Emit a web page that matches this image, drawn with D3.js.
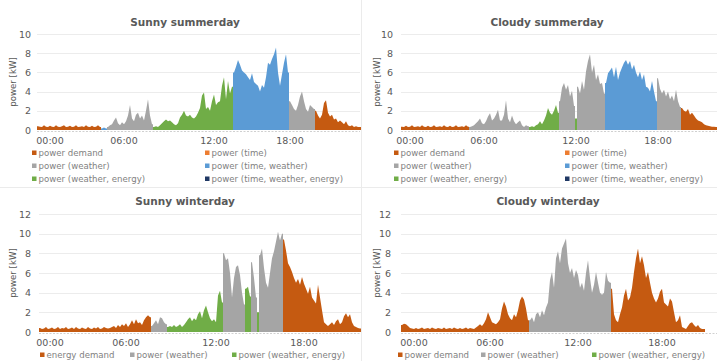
<!DOCTYPE html>
<html>
<head>
<meta charset="utf-8">
<script src="https://d3js.org/d3.v7.min.js"></script>
<style>
  body { margin: 0; background: #fff; }
  svg { display: block; font-family: "DejaVu Sans", Verdana, sans-serif; }
  .title { font-weight: bold; fill: #595959; font-size: 10.5px; }
  .ylabel { fill: #595959; font-size: 8.6px; }
  .legend text { fill: #7f7f7f; font-size: 8.6px; }
</style>
</head>
<body>
<svg id="chart" width="717" height="361"></svg>
<script>
// series (Excel default palette)
const seriesKeys   = ["demand", "time", "weather", "timeWeather", "weatherEnergy", "timeWeatherEnergy"];
const seriesNames  = ["power demand", "power (time)", "power (weather)", "power (time, weather)", "power (weather, energy)", "power (time, weather, energy)"];
const seriesColors = ["#C55A11", "#ED7D31", "#A5A5A5", "#5B9BD5", "#70AD47", "#203864"];
const tickLabels = ["00:00", "06:00", "12:00", "18:00"];

// Sunny summerday - one value per sample [kW]
const sunnySummerValues = [
  0.4,0.35,0.3,0.5,0.35,0.3,0.45,0.35,0.3,0.5,0.35,0.3,0.4,0.5,0.3,0.35,0.45,0.3,0.35,0.5,0.3,0.35,0.4,0.3,0.5,0.35,0.3,0.45,0.3,0.35,0.5,0.3,
  0.15,0.25,0.15,
  0.3,0.5,0.6,1.0,1.3,0.7,0.5,0.8,0.6,0.9,1.5,2.6,1.2,0.9,1.6,1.8,1.2,1.5,1.0,2.0,3.2,1.5,0.6,
  0.3,0.4,0.3,0.5,0.7,0.9,1.1,0.9,1.0,0.8,0.6,0.5,0.7,1.3,1.6,2.0,1.5,1.4,1.6,1.3,
  1.2,1.4,1.8,2.3,3.6,3.9,2.2,2.4,2.0,3.0,3.7,2.6,2.9,3.0,4.6,5.5,3.2,5.1,3.8,4.5,
  6.0,6.6,7.3,6.8,6.2,6.0,5.8,5.5,5.2,5.9,5.0,4.8,4.6,4.0,4.7,4.4,5.5,7.0,6.8,7.4,7.9,8.6,6.0,4.6,5.8,7.0,7.9,6.0,
  3.0,2.6,2.2,2.0,2.6,3.5,4.0,3.0,2.2,1.9,2.6,2.4,2.2,
  2.0,1.5,1.2,1.6,2.8,3.1,1.8,1.4,1.6,1.1,1.2,0.8,1.0,0.8,0.6,0.9,0.5,0.4,0.5,0.3,0.4,0.3,0.3
];
const sunnySummerSegments = [["demand",32],["timeWeather",3],["weather",23],["weatherEnergy",40],["timeWeather",28],["weather",13],["demand",23]];
const sunnySummerTicks = [6, 43, 88, 126];

// Cloudy summerday
const cloudySummerValues = [
  0.35,0.3,0.45,0.3,0.35,0.5,0.3,0.35,0.4,0.3,0.5,0.35,0.3,0.45,0.3,0.35,0.5,0.3,0.35,0.4,0.3,0.5,0.35,0.3,0.45,0.3,0.35,0.5,0.3,0.35,0.4,0.3,0.5,0.35,
  0.3,0.4,0.5,0.7,0.9,1.2,0.7,0.6,0.9,1.4,1.75,1.0,1.2,1.6,2.1,1.0,1.0,1.6,3.1,1.2,0.8,1.5,0.9,0.6,0.8,1.0,0.5,0.3,0.5,0.4,
  0.3,0.4,0.3,0.5,0.6,0.9,0.6,1.0,1.5,2.3,1.8,1.6,2.0,2.6,1.8,
  3.0,4.4,4.9,4.2,4.7,3.5,4.1,2.5,
  1.2,
  4.5,3.8,5.1,4.2,6.1,7.2,7.9,6.0,6.8,5.2,5.8,4.8,4.9,3.8,
  4.9,5.9,6.2,6.5,5.5,6.6,5.2,6.0,6.5,7.0,7.3,6.8,7.2,6.3,6.8,6.0,5.5,6.1,5.2,5.8,4.5,4.4,4.0,5.1,4.0,3.0,
  5.4,4.3,3.8,4.2,3.5,4.0,3.2,3.6,3.0,4.2,3.0,2.4,
  2.3,2.0,1.9,2.2,1.6,1.8,1.5,1.2,1.0,0.9,0.8,0.6,0.5,0.45,0.4,0.35,0.35,0.3
];
const cloudySummerSegments = [["demand",34],["weather",30],["weatherEnergy",15],["weather",8],["weatherEnergy",1],["weather",14],["timeWeather",26],["weather",12],["demand",18]];
const cloudySummerTicks = [4, 41, 87, 128];

// Sunny winterday
const sunnyWinterValues = [
  0.4,0.3,0.35,0.5,0.3,0.35,0.45,0.3,0.35,0.5,0.3,0.4,0.35,0.5,0.3,0.35,0.45,0.3,0.5,0.35,0.3,0.45,0.35,0.3,0.5,0.35,0.3,0.45,0.35,0.5,0.3,0.35,0.5,0.4,0.35,
  0.4,0.5,0.6,0.4,0.7,0.5,0.8,0.6,0.9,0.5,0.8,1.2,0.8,1.3,0.9,1.0,0.7,1.2,1.5,1.7,1.5,
  0.6,0.9,1.2,0.8,1.5,1.4,1.0,0.8,
  0.5,0.6,0.5,0.7,0.5,0.6,0.8,0.5,0.7,1.0,1.3,1.5,1.1,1.4,1.2,1.8,2.1,1.4,2.2,2.7,2.0,1.4,1.1,1.3,1.0,3.7,4.2,3.0,
  8.0,7.3,7.5,6.0,3.5,5.5,6.6,6.8,5.8,4.0,2.8,
  4.4,4.6,3.6,
  7.1,5.5,3.5,
  2.0,
  7.8,8.5,6.5,5.0,4.5,6.0,7.5,8.2,9.2,10.2,9.3,10.0,
  9.4,8.3,7.0,6.6,6.1,5.5,5.0,5.4,4.8,5.6,4.9,4.4,3.9,4.6,3.5,3.2,2.9,4.8,3.5,2.2,
  1.0,0.8,0.6,0.8,1.0,0.7,1.1,1.3,0.8,1.0,1.6,1.9,1.5,1.8,1.0,0.6,0.5,0.4,0.35
];
const sunnyWinterSegments = [["demand",56],["weather",8],["weatherEnergy",28],["weather",11],["weatherEnergy",3],["weather",3],["weatherEnergy",1],["weather",12],["demand",39]];
const sunnyWinterTicks = [5, 43, 88, 132];

// Cloudy winterday
const cloudyWinterValues = [
  0.7,0.85,0.8,0.6,0.4,
  0.35,0.3,0.4,0.3,0.35,0.45,0.3,0.35,0.4,0.3,0.45,0.35,0.3,0.4,0.35,0.3,0.45,0.3,0.35,0.4,0.3,0.45,0.35,0.3,0.4,0.3,0.35,0.45,0.3,0.4,0.35,0.3,0.45,
  0.6,0.8,0.6,0.9,1.3,2.0,1.5,1.0,0.9,0.8,1.0,1.3,2.4,3.1,2.6,1.8,1.4,1.2,1.8,1.5,2.2,3.2,3.6,3.3,2.4,1.2,
  1.2,1.5,1.0,1.8,2.0,1.5,2.2,1.7,2.5,3.0,5.3,6.1,4.5,7.5,8.2,7.0,8.5,9.0,9.5,7.0,
  6.0,6.5,5.5,6.3,5.8,4.5,5.0,4.2,6.0,7.3,5.5,4.0,4.8,6.1,5.0,4.0,3.8,4.0,6.1,5.2,5.0,
  4.4,1.8,1.2,1.0,1.8,2.5,3.7,4.4,3.2,3.5,4.5,6.1,7.5,8.5,7.0,7.7,6.8,5.5,6.1,5.0,
  4.0,3.4,3.0,3.4,4.1,4.4,3.0,2.8,2.6,3.4,3.1,2.0,1.0,1.2,1.7,0.5,0.4,0.3,0.6,0.9,
  1.0,0.7,0.5,0.7,0.4,0.3,0.3
];
const cloudyWinterSegments = [["demand",64],["weather",41],["demand",47]];
const cloudyWinterTicks = [6, 44, 88, 130];

// panel layouts
const summerLegend = [
  { key: "demand", col: 0, row: 0 }, { key: "time", col: 1, row: 0 },
  { key: "weather", col: 0, row: 1 }, { key: "timeWeather", col: 1, row: 1 },
  { key: "weatherEnergy", col: 0, row: 2 }, { key: "timeWeatherEnergy", col: 1, row: 2 }
];
const winterLegend = [
  { key: "demand", col: 0, row: 0 }, { key: "weather", col: 1, row: 0 }, { key: "weatherEnergy", col: 2, row: 0 }
];

const panels = [
  { title: "Sunny summerday", values: sunnySummerValues, segments: sunnySummerSegments, ticks: sunnySummerTicks,
    yMax: 10, left: 37, right: 361, top: 34, bottom: 130, gridRight: 360, titleX: 185, titleY: 26,
    yLabelX: 16, tickRight: 31, legend: summerLegend, legendX: [32, 205], legendY: [153, 166, 179] },
  { title: "Cloudy summerday", values: cloudySummerValues, segments: cloudySummerSegments, ticks: cloudySummerTicks,
    yMax: 10, left: 401, right: 717, top: 34, bottom: 130, gridRight: 717, titleX: 547, titleY: 26,
    yLabelX: 380, tickRight: 393, legend: summerLegend, legendX: [394, 565], legendY: [153, 166, 179] },
  { title: "Sunny winterday", values: sunnyWinterValues, segments: sunnyWinterSegments, ticks: sunnyWinterTicks,
    yMax: 12, left: 39, right: 361, top: 214, bottom: 332, gridRight: 361, titleX: 185, titleY: 205,
    yLabelX: 16, tickRight: 31, legend: winterLegend, legendX: [40, 130, 232], legendY: [355],
    names: { demand: "energy demand" } },
  { title: "Cloudy winterday", values: cloudyWinterValues, segments: cloudyWinterSegments, ticks: cloudyWinterTicks,
    yMax: 12, left: 401, right: 705, top: 214, bottom: 332, gridRight: 717, titleX: 548, titleY: 205,
    yLabelX: 380, tickRight: 391, legend: winterLegend, legendX: [398, 481, 592], legendY: [355] }
];

const svg = d3.select("#chart");
const color = d3.scaleOrdinal().domain(seriesKeys).range(seriesColors);
const label = d3.scaleOrdinal().domain(seriesKeys).range(seriesNames);

// faint chart borders
svg.append("line").attr("x1", 0).attr("x2", 717).attr("y1", 187.5).attr("y2", 187.5).attr("stroke", "#ebebeb");
svg.append("line").attr("x1", 361.5).attr("x2", 361.5).attr("y1", 0).attr("y2", 361).attr("stroke", "#ebebeb");

panels.forEach(p => {
  const g = svg.append("g");
  const n = p.values.length;
  const x = d3.scaleBand().domain(d3.range(n)).range([p.left, p.right]).padding(0);
  // sample index -> centre of its column
  const xc = d3.scaleLinear().domain([-0.5, n - 0.5]).range([p.left, p.right]);
  const y = d3.scaleLinear().domain([0, p.yMax]).range([p.bottom, p.top]);
  const yTicks = d3.range(0, p.yMax + 1, 2);

  // gridlines
  g.selectAll("line.grid").data(yTicks.slice(1)).join("line")
    .attr("class", "grid")
    .attr("x1", p.left).attr("x2", p.gridRight)
    .attr("y1", d => Math.round(y(d)) + 0.5).attr("y2", d => Math.round(y(d)) + 0.5)
    .attr("stroke", "#ececec");

  // one filled area per coloured run of samples
  let start = 0;
  const runs = p.segments.map(([key, len]) => {
    const pts = d3.range(start, start + len).map(i => [i, p.values[i]]);
    pts.unshift([start - 0.5, p.values[start]]);
    pts.push([start + len - 0.5, p.values[start + len - 1]]);
    start += len;
    return { key, pts };
  });
  const area = d3.area().x(d => xc(d[0])).y0(y(0)).y1(d => y(d[1]));
  g.selectAll("path.run").data(runs).join("path")
    .attr("class", "run")
    .attr("d", d => area(d.pts))
    .attr("fill", d => color(d.key));

  // dotted category axis
  g.append("line")
    .attr("x1", p.left).attr("x2", p.gridRight)
    .attr("y1", y(0) + 1.5).attr("y2", y(0) + 1.5)
    .attr("stroke", "#d0d0d0").attr("stroke-dasharray", "2,1.5");

  // axes
  g.append("g").attr("transform", `translate(${p.tickRight},0)`)
    .call(d3.axisLeft(y).tickValues(yTicks).tickSize(0).tickPadding(0))
    .call(a => a.select(".domain").remove())
    .call(a => a.selectAll("text").attr("fill", "#595959").attr("font-size", "9.5px").attr("font-family", "DejaVu Sans, Verdana, sans-serif"));

  g.append("g").attr("transform", `translate(0,${p.bottom})`)
    .call(d3.axisBottom(x).tickValues(p.ticks).tickFormat((d, i) => tickLabels[i]).tickSize(0).tickPadding(7))
    .call(a => a.select(".domain").remove())
    .call(a => a.selectAll("text").attr("fill", "#595959").attr("font-size", "9.5px").attr("font-family", "DejaVu Sans, Verdana, sans-serif"));

  // titles
  g.append("text").attr("class", "title")
    .attr("x", p.titleX).attr("y", p.titleY).attr("text-anchor", "middle").text(p.title);
  g.append("text").attr("class", "ylabel")
    .attr("transform", `translate(${p.yLabelX},${(p.top + p.bottom) / 2}) rotate(-90)`)
    .attr("text-anchor", "middle").text("power [kW]");

  // legend
  const lg = g.append("g").attr("class", "legend");
  const items = lg.selectAll("g").data(p.legend).join("g")
    .attr("transform", d => `translate(${p.legendX[d.col]},${p.legendY[d.row]})`);
  items.append("rect").attr("x", 0).attr("y", -2.5).attr("width", 4.5).attr("height", 4.5)
    .attr("fill", d => color(d.key));
  items.append("text").attr("x", 6.5).attr("y", 3)
    .text(d => (p.names && p.names[d.key]) || label(d.key));
});
</script>
</body>
</html>
